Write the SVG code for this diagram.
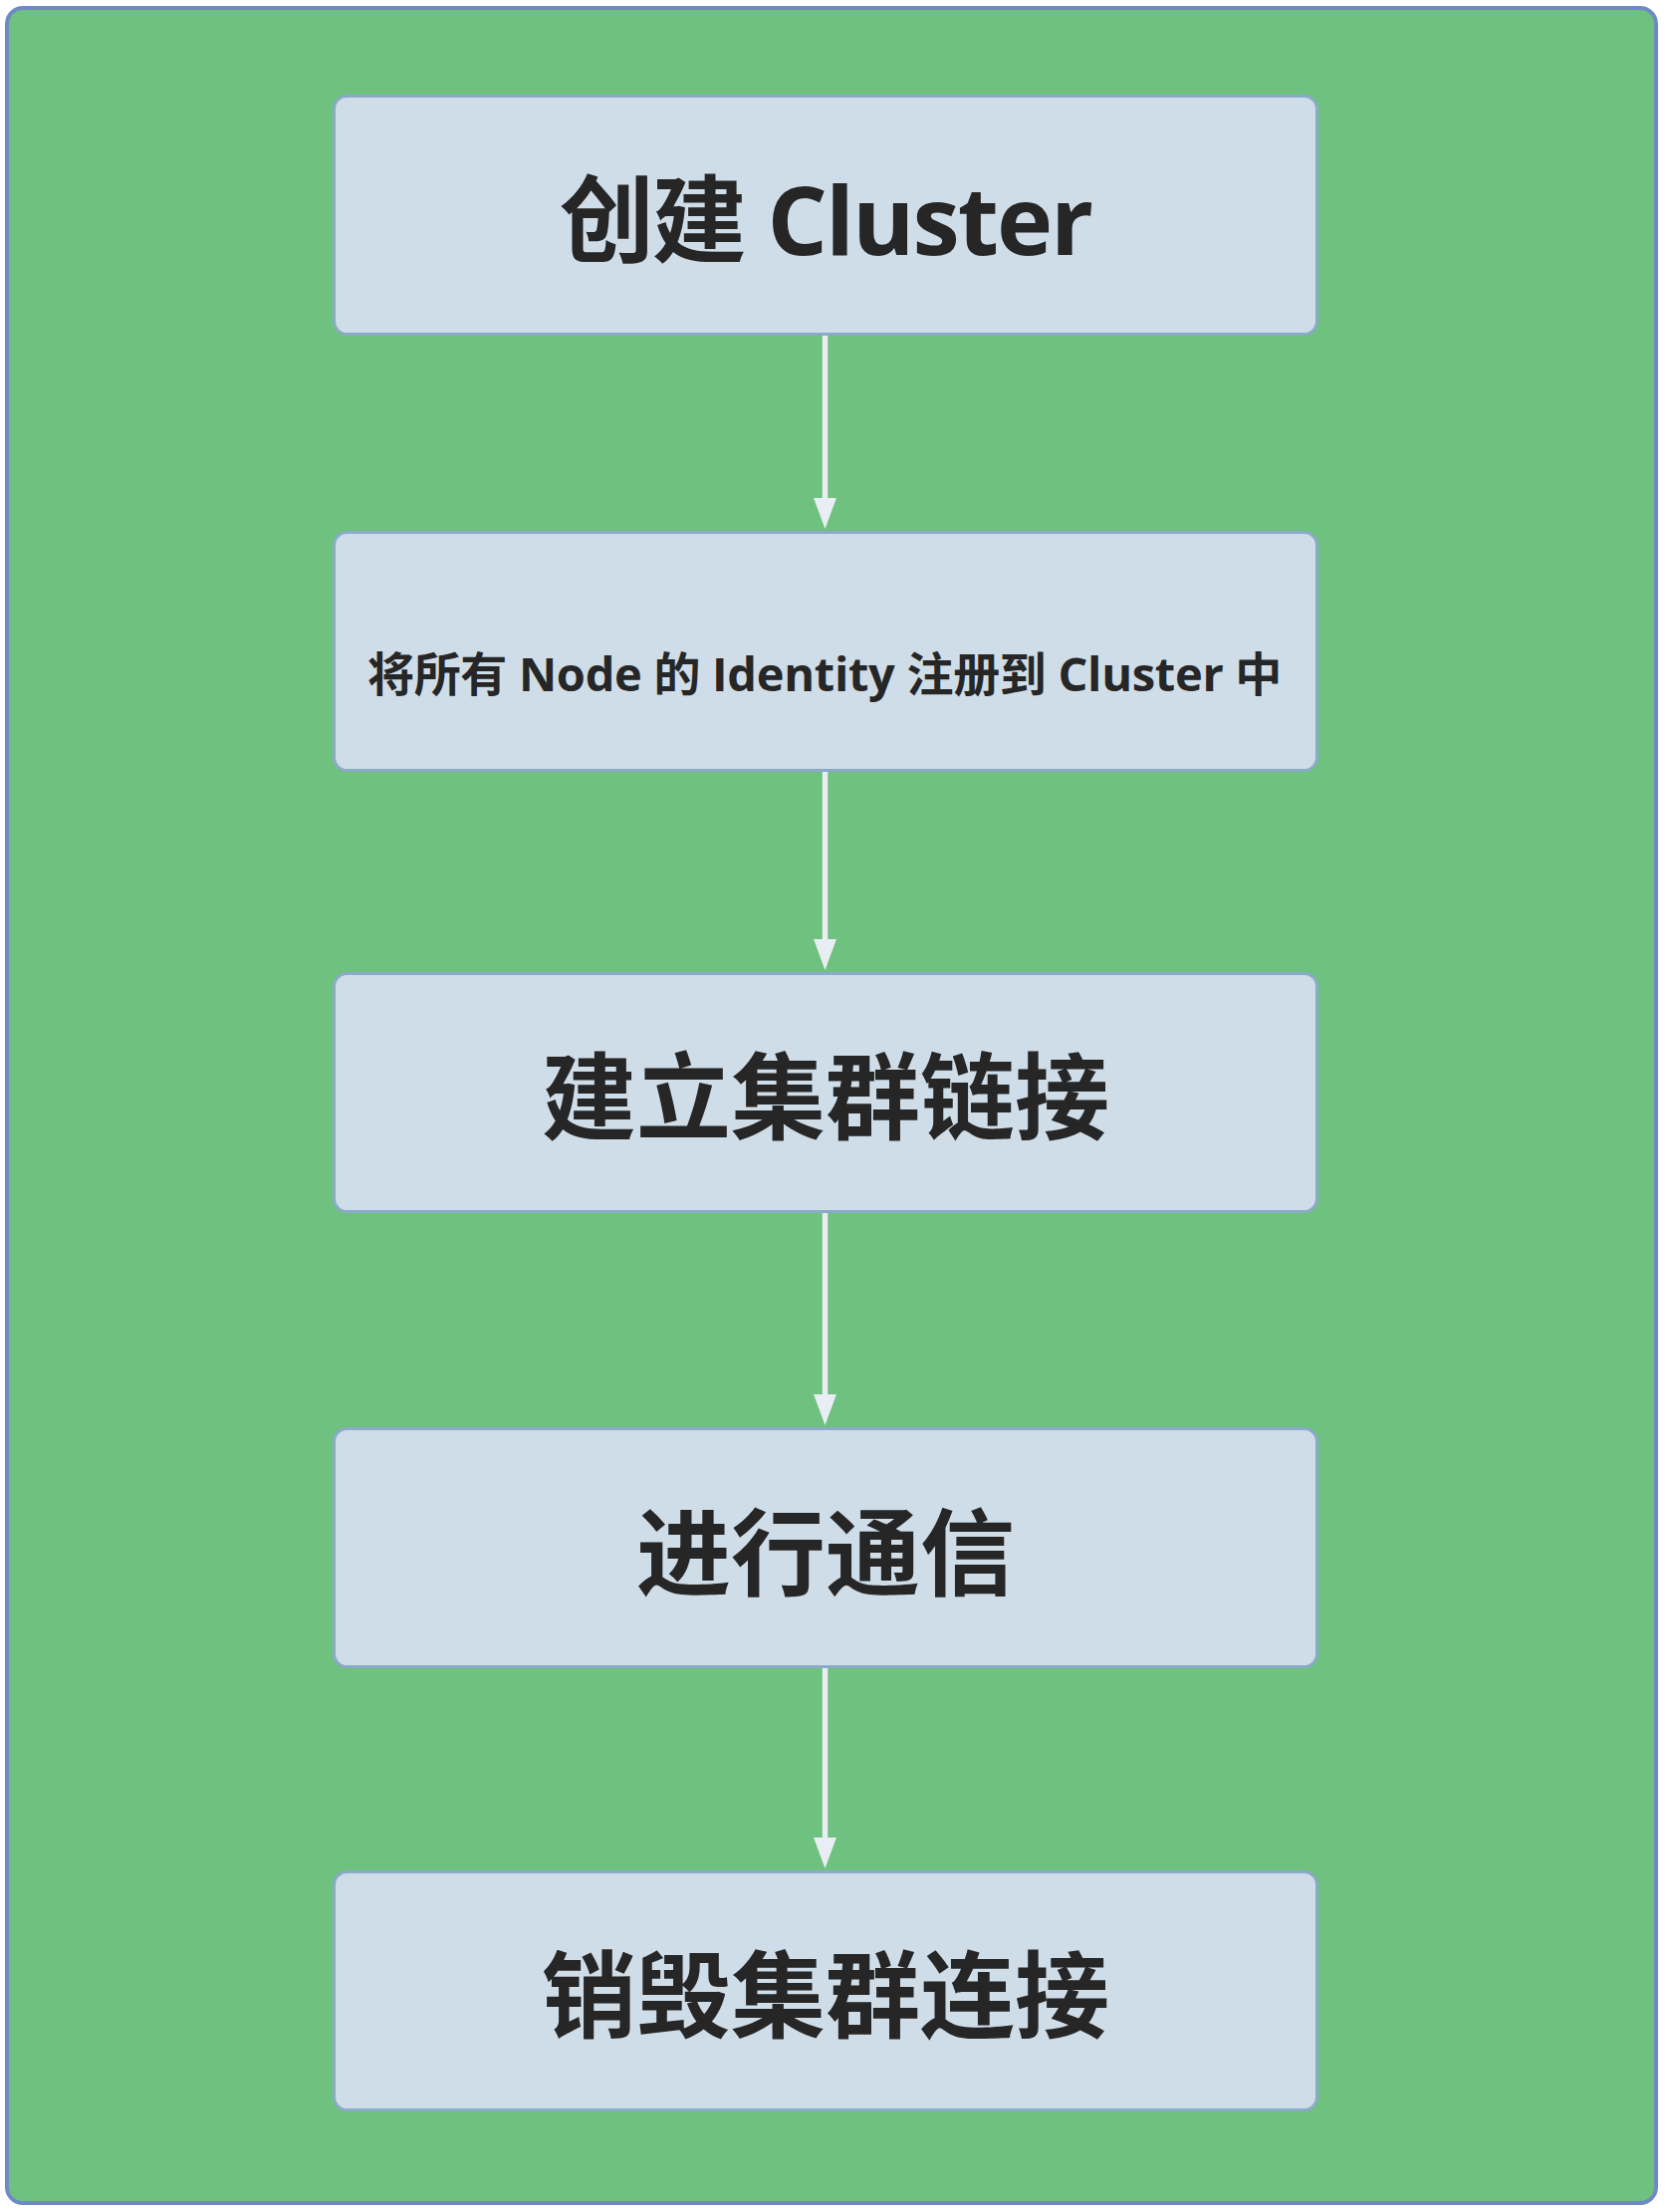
<svg xmlns="http://www.w3.org/2000/svg" width="1675" height="2221" viewBox="0 0 1675 2221">
<style>
.bg{fill:#6fc17f;stroke:#7089c4;stroke-width:4}
.node rect{fill:#cfdde8;stroke:#8aaac8;stroke-width:3}
.node text{font-family:"Open Sans","Noto Sans CJK SC",sans-serif;font-weight:700;fill:#262626;text-anchor:middle}
.big{font-size:95px}
.small{font-size:47px}
.edge{stroke:#e8eef4;stroke-width:5.5;fill:none}
.head{fill:#e8eef4}
</style>
<rect class="bg" x="7" y="8" width="1656" height="2204" rx="16"/>
<g id="connectors">
<line class="edge" x1="828.5" y1="336" x2="828.5" y2="505"/>
<polygon class="head" points="817,500 840,500 828.5,531"/>
<line class="edge" x1="828.5" y1="775" x2="828.5" y2="948"/>
<polygon class="head" points="817,943 840,943 828.5,974"/>
<line class="edge" x1="828.5" y1="1217" x2="828.5" y2="1405"/>
<polygon class="head" points="817,1400 840,1400 828.5,1431"/>
<line class="edge" x1="828.5" y1="1675" x2="828.5" y2="1850"/>
<polygon class="head" points="817,1845 840,1845 828.5,1876"/>
</g>
<g id="node1" class="node">
<rect x="335.5" y="96.5" width="987" height="239" rx="13"/>
<text class="big" x="829" y="256" letter-spacing="-2">创建 Cluster</text>
</g>
<g id="node2" class="node">
<rect x="335.5" y="534.5" width="987" height="239" rx="13"/>
<text class="small" x="828" y="694" letter-spacing="-0.3">将所有 Node 的 Identity 注册到 Cluster 中</text>
</g>
<g id="node3" class="node">
<rect x="335.5" y="977.5" width="987" height="239" rx="13"/>
<text class="big" x="829" y="1137">建立集群链接</text>
</g>
<g id="node4" class="node">
<rect x="335.5" y="1434.5" width="987" height="239" rx="13"/>
<text class="big" x="829" y="1595">进行通信</text>
</g>
<g id="node5" class="node">
<rect x="335.5" y="1879.5" width="987" height="239" rx="13"/>
<text class="big" x="829" y="2039">销毁集群连接</text>
</g>
</svg>
